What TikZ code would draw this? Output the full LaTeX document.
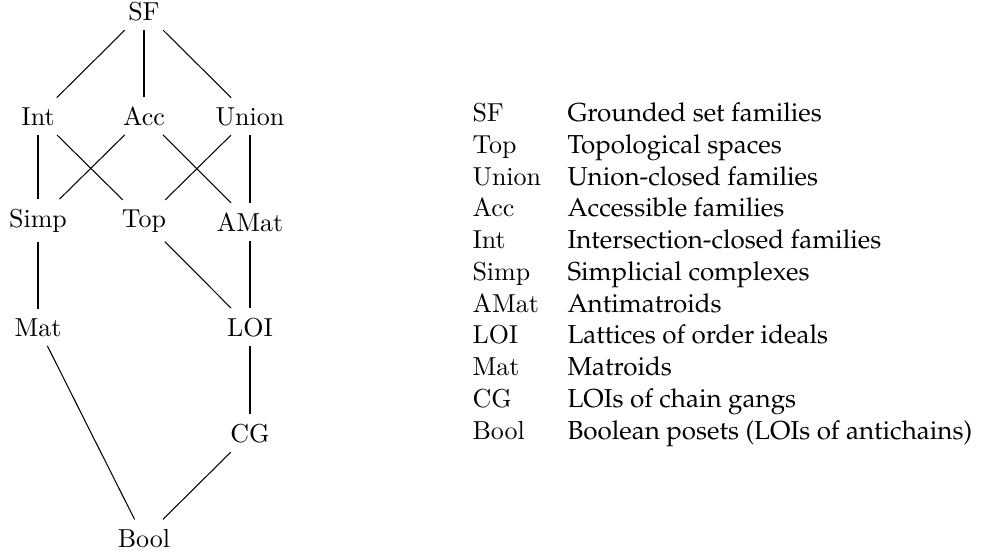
\documentclass[tikz,border=0pt]{standalone}
\usepackage[T1,TU]{fontenc}
\newcommand\palfont{\fontencoding{T1}\fontfamily{ppl}\selectfont}
\begin{document}
\begin{tikzpicture}[x=0.385pt,y=-0.385pt,
  vtx/.style={inner sep=3.5pt, anchor=base},
  lab/.style={anchor=base west, inner sep=0pt},
  desc/.style={anchor=base west, inner sep=0pt, font=\palfont},
  edge/.style={line width=0.4pt}]
\useasboundingbox (0,0) rectangle (985,556);
% Hasse diagram
\node[vtx] (SF) at (144,20) {SF};
\node[vtx] (Int) at (38,125) {Int};
\node[vtx] (Acc) at (144,125) {Acc};
\node[vtx] (Union) at (250,125) {Union};
\node[vtx] (Simp) at (38,227) {Simp};
\node[vtx] (Top) at (144,227) {Top};
\node[vtx] (AMat) at (250,231) {AMat};
\node[vtx] (Mat) at (38,336) {Mat};
\node[vtx] (LOI) at (250,336) {LOI};
\node[vtx] (CG) at (250,442) {CG};
\node[vtx] (Bool) at (144,547) {Bool};
\draw[edge] (SF) -- (Int);
\draw[edge] (SF) -- (Acc);
\draw[edge] (SF) -- (Union);
\draw[edge] (Int) -- (Simp);
\draw[edge] (Int) -- (Top);
\draw[edge] (Acc) -- (Simp);
\draw[edge] (Acc) -- (AMat);
\draw[edge] (Union) -- (Top);
\draw[edge] (Union) -- (AMat);
\draw[edge] (Simp) -- (Mat);
\draw[edge] (Top) -- (LOI);
\draw[edge] (AMat) -- (LOI);
\draw[edge] (LOI) -- (CG);
\draw[edge] (Mat) -- (Bool);
\draw[edge] (CG) -- (Bool);
% legend
\node[lab] (l1) at (472,121) {SF};
\node[desc] (d1) at (567,121) {Grounded set families};
\node[lab] (l2) at (472,153) {Top};
\node[desc] (d2) at (567,153) {Topological spaces};
\node[lab] (l3) at (472,185) {Union};
\node[desc] (d3) at (567,185) {Union-closed families};
\node[lab] (l4) at (472,216) {Acc};
\node[desc] (d4) at (567,216) {Accessible families};
\node[lab] (l5) at (472,248) {Int};
\node[desc] (d5) at (567,248) {Intersection-closed families};
\node[lab] (l6) at (472,280) {Simp};
\node[desc] (d6) at (567,280) {Simplicial complexes};
\node[lab] (l7) at (472,312) {AMat};
\node[desc] (d7) at (567,312) {Antimatroids};
\node[lab] (l8) at (472,343) {LOI};
\node[desc] (d8) at (567,343) {Lattices of order ideals};
\node[lab] (l9) at (472,375) {Mat};
\node[desc] (d9) at (567,375) {Matroids};
\node[lab] (l10) at (472,407) {CG};
\node[desc] (d10) at (567,407) {LOIs of chain gangs};
\node[lab] (l11) at (472,439) {Bool};
\node[desc] (d11) at (567,439) {Boolean posets (LOIs of antichains)};
\end{tikzpicture}
\end{document}
